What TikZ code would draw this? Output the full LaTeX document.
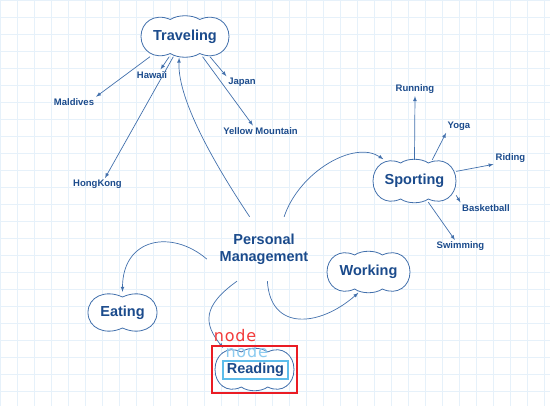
\documentclass[tikz,border=0pt]{standalone}
\usepackage{fontspec}
\setmainfont{Liberation Sans}
\newfontfamily\tagfont[LetterSpace=5]{DejaVu Sans}
\usetikzlibrary{fit}

\definecolor{gridblue}{HTML}{E6F1FA}
\definecolor{edgeblue}{HTML}{4270AC}
\definecolor{textblue}{HTML}{1B4B8C}
\definecolor{markred}{HTML}{EA1C24}
\definecolor{tagred}{HTML}{F23A3A}
\definecolor{taglight}{HTML}{8CCBF0}
\definecolor{boxblue}{HTML}{5DBDEB}

\tikzset{
  gridline/.style={draw=gridblue, line width=0.4pt},
  cloudedge/.style={draw=edgeblue, fill=white, line width=0.8pt},
  cloudtext/.style={inner sep=0pt, text=textblue, font=\bfseries\fontsize{14.5}{17}\selectfont},
  leaf/.style={inner sep=1pt, text=textblue, font=\bfseries\fontsize{9.5}{11}\selectfont},
  branch/.style={draw=edgeblue, line width=0.7pt, -latex, shorten >=1pt},
  tagtext/.style={inner sep=0pt, font=\tagfont\fontsize{16}{18}\selectfont},
}

% cloud with three lobes: name, x, y, half width, half height, text
\newcommand\cloudthree[6]{%
  \draw[cloudedge] ({#2-#4/3},{#3-#5+3})
    .. controls ({#2-0.7*#4},{#3-#5-4}) and ({#2-#4},{#3-0.7*#5}) .. ({#2-#4},#3)
    .. controls ({#2-#4},{#3+0.7*#5}) and ({#2-0.7*#4},{#3+#5+4}) .. ({#2-#4/3},{#3+#5-3})
    .. controls ({#2-#4/6},{#3+#5+2}) and ({#2+#4/6},{#3+#5+2}) .. ({#2+#4/3},{#3+#5-3})
    .. controls ({#2+0.7*#4},{#3+#5+4}) and ({#2+#4},{#3+0.7*#5}) .. ({#2+#4},#3)
    .. controls ({#2+#4},{#3-0.7*#5}) and ({#2+0.7*#4},{#3-#5-4}) .. ({#2+#4/3},{#3-#5+3})
    .. controls ({#2+#4/6},{#3-#5-2}) and ({#2-#4/6},{#3-#5-2}) .. cycle;
  \node[cloudtext, minimum width={2*#4pt}, minimum height={2*#5pt}] (#1) at (#2,#3) {#6};}

% cloud with two lobes
\newcommand\cloudtwo[6]{%
  \draw[cloudedge] (#2,{#3-#5+4})
    .. controls ({#2-0.5*#4},{#3-#5-4}) and ({#2-#4},{#3-0.8*#5}) .. ({#2-#4},#3)
    .. controls ({#2-#4},{#3+0.8*#5}) and ({#2-0.5*#4},{#3+#5+4}) .. (#2,{#3+#5-4})
    .. controls ({#2+0.5*#4},{#3+#5+4}) and ({#2+#4},{#3+0.8*#5}) .. ({#2+#4},#3)
    .. controls ({#2+#4},{#3-0.8*#5}) and ({#2+0.5*#4},{#3-#5-4}) .. cycle;
  \node[cloudtext, minimum width={2*#4pt}, minimum height={2*#5pt}] (#1) at (#2,#3) {#6};}

\begin{document}
\begin{tikzpicture}[x=1pt, y=1pt, yscale=-1]
  \useasboundingbox (0,0) rectangle (550,406);
  \draw[gridline] (0,0) grid[step=17pt] (550,406);

  \cloudthree{trav}{185}{36.5}{44}{20}{Traveling}
  \cloudthree{sport}{414.5}{181}{41.5}{21}{Sporting}
  \cloudthree{work}{368.5}{272}{41.5}{20}{Working}
  \cloudtwo{eat}{122.5}{312.5}{34.5}{19.5}{Eating}
  \cloudthree{read}{254.5}{369.5}{39.5}{20.5}{}

  \node[cloudtext, align=center, minimum width=114pt, minimum height=64pt] (pm)
    at (264,249) {Personal\\Management};

  \node[leaf] (hawaii) at (152,75) {Hawaii};
  \node[leaf] (maldives) at (74,102) {Maldives};
  \node[leaf] (hongkong) at (97.5,184.5) {HongKong};
  \node[leaf] (japan) at (242,82.5) {Japan};
  \node[leaf] (yellow) at (260.5,131) {Yellow Mountain};
  \node[leaf] (running) at (415,89.5) {Running};
  \node[leaf] (yoga) at (459,126.5) {Yoga};
  \node[leaf] (riding) at (510.5,158.5) {Riding};
  \node[leaf] (basket) at (486,208) {Basketball};
  \node[leaf] (swimming) at (460.5,246.5) {Swimming};

  \draw[branch] (trav.210) -- (maldives.north east);
  \draw[branch] (trav.232) -- ([xshift=8pt]hawaii.north);
  \draw[branch] (trav.240) -- ([xshift=7pt]hongkong.north);
  \draw[branch] (trav.321) -- (japan.north west);
  \draw[branch] (trav.311) -- ([xshift=-7pt]yellow.north);

  \draw[branch] (sport.north) -- (running.south);
  \draw[branch] (sport.50) -- (yoga.south west);
  \draw[branch] (sport.13) -- (riding.south west);
  \draw[branch] (sport.-19) -- (basket.north west);
  \draw[branch] (sport.-57) -- ([xshift=-5pt]swimming.north);

  \draw[branch] (pm.114) .. controls +(-30,-45) and +(-2,45) .. (trav.254);
  \draw[branch] (pm.58) .. controls +(15,-45) and +(-30,-20) .. (sport.145);
  \draw[branch] (pm.276) .. controls +(3,50) and +(-40,35) .. (work.245);
  \draw[branch] (pm.190) .. controls +(-35,-30) and +(0,-55) .. (eat.north);
  \draw[branch] (pm.230) .. controls +(-35,25) and +(-20,-25) .. (read.146);

  % selection marks round Reading
  \node[tagtext, text=tagred] (tagup) at (235,335.7) {node};
  \node[tagtext, text=taglight] (tagdown) at (246.7,351.7) {node};
  \node[cloudtext, draw=boxblue, line width=2.4pt, inner xsep=4pt, minimum height=18pt]
    (readtxt) at (255.5,370) {Reading};
  \node[draw=markred, line width=2.5pt, fit=(read), inner sep=3pt] (pick) {};
\end{tikzpicture}
\end{document}
